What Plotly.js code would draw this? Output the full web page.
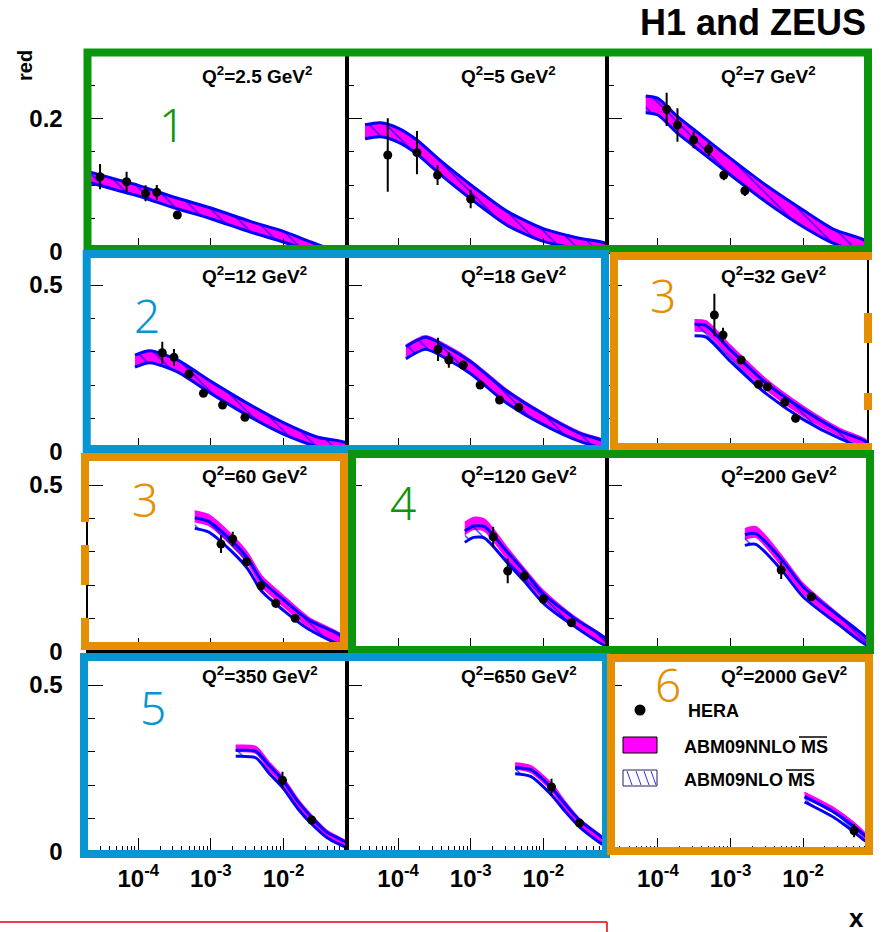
<!DOCTYPE html>
<html>
<head>
<meta charset="utf-8">
<script src="https://cdn.plot.ly/plotly-3.0.1.min.js"></script>
<style>html,body{margin:0;padding:0;background:#fff;}#chart{width:883px;height:932px;}</style>
</head>
<body>
<div id="chart"></div>
<script>
// ---------------- DATA ----------------
const q2Labels = ['2.5','5','7','12','18','32','60','120','200','350','650','2000'];

const bandX = [
  [2e-5, 5e-5, 1e-4, 3.4e-4, 1e-3, 3.5e-3, 1e-2, 2.4e-2, 4e-2, 8e-2],
  [3.5e-5, 5.7e-5, 1e-4, 1.8e-4, 3.5e-4, 1e-3, 3.2e-3, 1e-2, 3e-2, 8e-2],
  [6.8e-5, 1e-4, 1.8e-4, 3.2e-4, 1e-3, 3.2e-3, 1e-2, 2.7e-2, 7.7e-2],
  [9e-5, 1.45e-4, 3.4e-4, 1e-3, 3.2e-3, 1e-2, 2.9e-2, 7.7e-2],
  [1.28e-4, 2.4e-4, 4.6e-4, 1e-3, 3e-3, 1e-2, 3.2e-2, 7.7e-2],
  [3.2e-4, 4.6e-4, 1e-3, 3.1e-3, 1e-2, 3.2e-2, 7.7e-2],
  [6e-4, 9.3e-4, 1.95e-3, 3.2e-3, 5e-3, 1e-2, 2.2e-2, 7.7e-2],
  [8.3e-4, 1.1e-3, 1.55e-3, 3.2e-3, 5.5e-3, 1e-2, 2.7e-2, 7.8e-2],
  [1.58e-3, 2.24e-3, 5.2e-3, 1e-2, 3.2e-2, 7.6e-2],
  [2.2e-3, 4.2e-3, 6.3e-3, 9.7e-3, 1.58e-2, 2.45e-2, 4e-2, 7.7e-2],
  [4.1e-3, 6.7e-3, 1.3e-2, 2e-2, 3.2e-2, 7.7e-2],
  [1.05e-2, 2.7e-2, 5e-2, 7.7e-2]
];
const nnloHi = [
  [0.119, 0.107, 0.098, 0.079, 0.064, 0.044, 0.029, 0.013, 0.005, 0.0],
  [0.189, 0.192, 0.184, 0.1665, 0.139, 0.099, 0.059, 0.033, 0.019, 0.009],
  [0.232, 0.2285, 0.2025, 0.181, 0.1385, 0.097, 0.061, 0.0315, 0.013],
  [0.288, 0.301, 0.274, 0.209, 0.143, 0.085, 0.042, 0.022],
  [0.320, 0.348, 0.320, 0.275, 0.19, 0.117, 0.059, 0.03],
  [0.396, 0.392, 0.319, 0.218, 0.137, 0.07, 0.033],
  [0.422, 0.411, 0.350, 0.297, 0.228, 0.168, 0.104, 0.040],
  [0.388, 0.403, 0.398, 0.312, 0.25, 0.184, 0.105, 0.036],
  [0.369, 0.375, 0.286, 0.205, 0.11, 0.041],
  [0.319, 0.315, 0.27, 0.226, 0.158, 0.109, 0.063, 0.028],
  [0.266, 0.258, 0.205, 0.151, 0.098, 0.031],
  [0.178, 0.131, 0.088, 0.046]
];
const nnloLo = [
  [0.106, 0.094, 0.085, 0.066, 0.051, 0.031, 0.016, 0.003, -0.003, -0.008],
  [0.171, 0.174, 0.166, 0.1485, 0.121, 0.081, 0.041, 0.017, 0.006, -0.003],
  [0.210, 0.2065, 0.1805, 0.159, 0.1165, 0.075, 0.039, 0.0135, -0.001],
  [0.256, 0.269, 0.242, 0.177, 0.111, 0.055, 0.018, 0.002],
  [0.286, 0.314, 0.286, 0.241, 0.156, 0.085, 0.035, 0.014],
  [0.362, 0.358, 0.285, 0.186, 0.107, 0.048, 0.015],
  [0.390, 0.379, 0.318, 0.265, 0.196, 0.136, 0.076, 0.018],
  [0.352, 0.367, 0.362, 0.278, 0.22, 0.156, 0.081, 0.018],
  [0.337, 0.343, 0.254, 0.175, 0.084, 0.023],
  [0.301, 0.295, 0.246, 0.203, 0.136, 0.089, 0.047, 0.016],
  [0.248, 0.238, 0.183, 0.129, 0.078, 0.017],
  [0.162, 0.115, 0.072, 0.034]
];
const nloHi = [
  [0.1205, 0.1085, 0.0995, 0.0805, 0.0655, 0.0455, 0.0305, 0.0145, 0.006, 0.001],
  [0.1905, 0.1935, 0.1855, 0.168, 0.1405, 0.1005, 0.0605, 0.0345, 0.0205, 0.0105],
  [0.2335, 0.23, 0.204, 0.1825, 0.14, 0.0985, 0.0625, 0.033, 0.0145],
  [0.290, 0.303, 0.276, 0.211, 0.145, 0.087, 0.044, 0.024],
  [0.315, 0.343, 0.315, 0.270, 0.185, 0.113, 0.055, 0.027],
  [0.382, 0.378, 0.305, 0.206, 0.127, 0.062, 0.027],
  [0.402, 0.391, 0.332, 0.281, 0.214, 0.156, 0.096, 0.036],
  [0.362, 0.377, 0.375, 0.299, 0.241, 0.174, 0.1, 0.033],
  [0.351, 0.354, 0.274, 0.195, 0.105, 0.038],
  [0.304, 0.301, 0.26, 0.216, 0.151, 0.103, 0.058, 0.025],
  [0.252, 0.246, 0.192, 0.143, 0.093, 0.028],
  [0.165, 0.118, 0.076, 0.040]
];
const nloLo = [
  [0.1045, 0.0925, 0.0835, 0.0645, 0.0495, 0.0295, 0.0145, 0.0015, -0.004, -0.009],
  [0.1695, 0.1725, 0.1645, 0.147, 0.1195, 0.0795, 0.0395, 0.0155, 0.0045, -0.0045],
  [0.2085, 0.205, 0.179, 0.1575, 0.115, 0.0735, 0.0375, 0.012, -0.0025],
  [0.254, 0.267, 0.240, 0.175, 0.109, 0.053, 0.016, 0.0],
  [0.279, 0.307, 0.279, 0.234, 0.149, 0.081, 0.031, 0.011],
  [0.348, 0.344, 0.271, 0.174, 0.097, 0.040, 0.009],
  [0.370, 0.359, 0.300, 0.249, 0.182, 0.124, 0.068, 0.014],
  [0.328, 0.343, 0.341, 0.267, 0.211, 0.146, 0.076, 0.015],
  [0.319, 0.322, 0.242, 0.165, 0.079, 0.02],
  [0.286, 0.281, 0.236, 0.193, 0.129, 0.083, 0.042, 0.013],
  [0.234, 0.226, 0.170, 0.121, 0.073, 0.014],
  [0.149, 0.102, 0.060, 0.028]
];
const heraX = [
  [2.97e-5, 6.9e-5, 1.26e-4, 1.8e-4, 3.45e-4],
  [7.2e-5, 1.82e-4, 3.5e-4, 1e-3],
  [1.32e-4, 1.86e-4, 3.1e-4, 5.0e-4, 8.1e-4, 1.58e-3],
  [2.14e-4, 3.1e-4, 5.0e-4, 7.9e-4, 1.45e-3, 2.95e-3],
  [3.55e-4, 5.0e-4, 7.9e-4, 1.35e-3, 2.5e-3, 4.6e-3],
  [6.0e-4, 7.9e-4, 1.4e-3, 2.43e-3, 3.24e-3, 5.6e-3, 7.9e-3],
  [1.38e-3, 2.0e-3, 3.1e-3, 4.9e-3, 7.85e-3, 1.45e-2],
  [2.04e-3, 3.24e-3, 5.5e-3, 1e-2, 2.45e-2],
  [5.0e-3, 1.3e-2],
  [9.7e-3, 2.45e-2],
  [1.3e-2, 3.16e-2],
  [5.05e-2]
];
const heraY = [
  [0.1125, 0.105, 0.0875, 0.089, 0.055],
  [0.145, 0.1486, 0.115, 0.079],
  [0.2136, 0.19, 0.1675, 0.1536, 0.115, 0.0915],
  [0.297, 0.283, 0.233, 0.175, 0.14, 0.103],
  [0.307, 0.275, 0.26, 0.20, 0.155, 0.133],
  [0.41, 0.35, 0.275, 0.202, 0.195, 0.148, 0.10],
  [0.323, 0.338, 0.27, 0.198, 0.145, 0.10],
  [0.345, 0.242, 0.227, 0.158, 0.087],
  [0.245, 0.165],
  [0.2145, 0.095],
  [0.194, 0.086],
  [0.063]
];
const heraErr = [
  [0.019, 0.015, 0.012, 0.011, 0.004],
  [0.055, 0.0325, 0.015, 0.014],
  [0.025, 0.025, 0.0125, 0.01, 0.008, 0.008],
  [0.033, 0.025, 0.012, 0.008, 0.008, 0.006],
  [0.035, 0.023, 0.012, 0.008, 0.008, 0.008],
  [0.064, 0.022, 0.01, 0.008, 0.008, 0.007, 0.007],
  [0.027, 0.022, 0.012, 0.01, 0.013, 0.008],
  [0.03, 0.037, 0.015, 0.008, 0.007],
  [0.027, 0.01],
  [0.025, 0.008],
  [0.025, 0.008],
  [0.02]
];
const xTickVals = [1e-4, 1e-3, 1e-2];
const xTickText = ['10<sup>-4</sup>', '10<sup>-3</sup>', '10<sup>-2</sup>'];
const xMinorVals = [3e-5,4e-5,5e-5,6e-5,7e-5,8e-5,9e-5,2e-4,3e-4,4e-4,5e-4,6e-4,7e-4,8e-4,9e-4,
                    2e-3,3e-3,4e-3,5e-3,6e-3,7e-3,8e-3,9e-3,2e-2,3e-2,4e-2,5e-2,6e-2,7e-2];
const yMaxTop = 0.3, yMaxOther = 0.6;
const yTickTop = [0, 0.2], yTickTopText = ['0', '0.2'], yMinorTop = [0.05, 0.1, 0.15, 0.25];
const yTickOther = [0, 0.5], yTickOtherText = ['0', '0.5'], yMinorOther = [0.1, 0.2, 0.3, 0.4];
const legendLabels = ['HERA', 'ABM09NNLO MS', 'ABM09NLO MS'];

// ---------------- LAYOUT HELPERS ----------------
const W = 883, H = 932;
const colEdges = [87.5, 347.3, 607.1, 866.9];
const rowEdges = [51.7, 251.7, 451.7, 651.7, 851.7];
const PX = x => x / W;
const PY = y => 1 - y / H;
const FONT = 'Liberation Sans, Arial, Helvetica, sans-serif';
const GREEN = '#0c950c', BLUE = '#0896d3', ORANGE = '#e48e00';

const traces = [];
const layout = {
  width: W, height: H,
  margin: {l: 0, r: 0, t: 0, b: 0},
  paper_bgcolor: '#fff', plot_bgcolor: '#fff',
  showlegend: false,
  shapes: [], annotations: []
};

for (let i = 0; i < 12; i++) {
  const r = Math.floor(i / 3), c = i % 3;
  const xa = i === 0 ? 'x' : 'x' + (i + 1);
  const ya = i === 0 ? 'y' : 'y' + (i + 1);
  const xKey = i === 0 ? 'xaxis' : 'xaxis' + (i + 1);
  const yKey = i === 0 ? 'yaxis' : 'yaxis' + (i + 1);

  const bx = bandX[i];
  const polyX = bx.concat(bx.slice().reverse());
  traces.push({
    x: polyX, y: nnloHi[i].concat(nnloLo[i].slice().reverse()),
    xaxis: xa, yaxis: ya, mode: 'lines', fill: 'toself',
    fillcolor: '#ff00ff', line: {color: '#ff00ff', width: 1.5, shape: 'spline', smoothing: 0.7}, hoverinfo: 'skip'
  });
  traces.push({
    x: polyX, y: nloHi[i].concat(nloLo[i].slice().reverse()),
    xaxis: xa, yaxis: ya, mode: 'lines', fill: 'toself',
    fillcolor: 'rgba(0,0,0,0)',
    fillpattern: {shape: '\\', fgcolor: '#0000ff', bgcolor: 'rgba(0,0,0,0)', size: 12, solidity: 0.1},
    line: {color: '#0000ff', width: 3, shape: 'spline', smoothing: 0.7}, hoverinfo: 'skip'
  });
  traces.push({
    x: heraX[i], y: heraY[i], xaxis: xa, yaxis: ya, mode: 'markers',
    marker: {color: '#000', size: 9},
    error_y: {type: 'data', array: heraErr[i], color: '#000', thickness: 2, width: 0}
  });

  layout[xKey] = {
    type: 'log', range: [-4.70, -1.12],
    domain: [PX(colEdges[c]), PX(colEdges[c + 1])],
    anchor: ya,
    showline: true, linecolor: '#000', linewidth: 2, mirror: true,
    ticks: 'inside', ticklen: 14, tickwidth: 1, tickcolor: '#000',
    tickmode: 'array', tickvals: xTickVals, ticktext: xTickText,
    showticklabels: r === 3, ticklabelstandoff: 4,
    tickfont: {family: FONT, size: 24, color: '#000', weight: 'bold'},
    minor: {tickmode: 'array', tickvals: xMinorVals, ticks: 'inside', ticklen: 6, tickwidth: 1, tickcolor: '#000'},
    showgrid: false, zeroline: false
  };
  layout[yKey] = {
    range: [0, r === 0 ? yMaxTop : yMaxOther],
    domain: [PY(rowEdges[r + 1]), PY(rowEdges[r])],
    anchor: xa,
    showline: true, linecolor: '#000', linewidth: 2, mirror: true,
    ticks: 'inside', ticklen: 15, tickwidth: 1, tickcolor: '#000',
    tickmode: 'array',
    tickvals: r === 0 ? yTickTop : yTickOther,
    ticktext: r === 0 ? yTickTopText : yTickOtherText,
    showticklabels: c === 0, ticklabelstandoff: 18,
    tickfont: {family: FONT, size: 24, color: '#000', weight: 'bold'},
    minor: {tickmode: 'array', tickvals: r === 0 ? yMinorTop : yMinorOther, ticks: 'inside', ticklen: 7, tickwidth: 1, tickcolor: '#000'},
    showgrid: false, zeroline: false
  };

  layout.annotations.push({
    xref: 'paper', yref: 'paper', x: PX(colEdges[c] + 112), y: PY(rowEdges[r] + 23),
    xanchor: 'left', yanchor: 'middle', showarrow: false,
    text: 'Q<sup>2</sup>=' + q2Labels[i] + ' GeV<sup>2</sup>',
    font: {family: FONT, size: 19, color: '#000', weight: 'bold'}
  });
}

// ---- texts ----
function ann(x, y, text, size, color, opts) {
  layout.annotations.push(Object.assign({
    xref: 'paper', yref: 'paper', x: PX(x), y: PY(y), showarrow: false,
    xanchor: 'center', yanchor: 'middle', text: text,
    font: {family: FONT, size: size, color: color, weight: 'bold'}
  }, opts || {}));
}
ann(868, 22, 'H1 and ZEUS', 36, '#000', {xanchor: 'right'});
ann(856, 918, 'x', 26, '#000');
ann(25, 66, 'red', 20, '#000', {textangle: -90});

// legend texts
ann(686, 711, legendLabels[0], 18, '#000', {xanchor: 'left'});
ann(682, 747, legendLabels[1], 18, '#000', {xanchor: 'left'});
ann(682, 780, legendLabels[2], 18, '#000', {xanchor: 'left'});

// numbers
const numFont = 'Noto Sans, Open Sans, sans-serif';
[[172,124,'1',GREEN],[147,315,'2',BLUE],[663,295,'3',ORANGE],[145,499,'3',ORANGE],
 [403,502,'4',GREEN],[153,707,'5',BLUE],[668,684,'6',ORANGE]].forEach(n => {
  layout.annotations.push({xref:'paper', yref:'paper', x: PX(n[0]), y: PY(n[1]), showarrow:false,
    xanchor:'center', yanchor:'middle', text: n[2], font:{family: numFont, size: 46, color: n[3], weight: 300}});
});

// ---- shapes ----
function line(x0, y0, x1, y1, color, w) {
  layout.shapes.push({type:'line', xref:'paper', yref:'paper', x0:PX(x0), y0:PY(y0), x1:PX(x1), y1:PY(y1),
    line:{color:color, width:w}});
}
function rect(x0, y0, x1, y1, color, w, fill) {
  layout.shapes.push({type:'rect', xref:'paper', yref:'paper', x0:PX(x0), y0:PY(y0), x1:PX(x1), y1:PY(y1),
    line:{color:color, width:w}, fillcolor: fill || 'rgba(0,0,0,0)'});
}
// legend symbols
layout.shapes.push({type:'circle', xref:'paper', yref:'paper', x0:PX(634.5), x1:PX(645.5), y0:PY(704.5), y1:PY(715.5),
  fillcolor:'#000', line:{color:'#000', width:0}});
rect(623, 737, 657, 753, '#000', 1, '#ff00ff');
rect(623, 770, 657, 786, '#202060', 1, '#fff');
[[627,632],[636,641],[644,649],[651,656]].forEach(p => line(p[0], 771, p[1], 785, '#3030ff', 1));
line(799, 737, 827, 737, '#000', 1.5);
line(786, 770, 814, 770, '#000', 1.5);

// coloured boxes
const BW = 8;
rect(87.5, 52.5, 868, 249, GREEN, BW);
rect(86.7, 254, 605, 449, BLUE, BW);
line(610, 256, 872, 256, ORANGE, BW);
line(614, 252, 614, 451, ORANGE, BW);
line(610, 447, 872, 447, ORANGE, BW);
line(868, 313, 868, 343, ORANGE, BW);
line(868, 393, 868, 410, ORANGE, BW);
line(81, 457, 348, 457, ORANGE, BW);
line(344, 453, 344, 650, ORANGE, BW);
line(81, 646, 348, 646, ORANGE, BW);
line(85, 453, 85, 522, ORANGE, BW);
line(85, 545, 85, 585, ORANGE, BW);
line(85, 618, 85, 650, ORANGE, BW);
rect(352, 454, 870, 650, GREEN, BW);
rect(84, 657, 606, 854, BLUE, BW);
rect(611, 658, 869, 851, ORANGE, BW);

// red line at bottom
line(0, 922, 607, 922, '#e00000', 1.5);
line(607, 922, 607, 934, '#e00000', 1.5);

Plotly.newPlot('chart', traces, layout, {staticPlot: true, displayModeBar: false});
</script>
</body>
</html>
